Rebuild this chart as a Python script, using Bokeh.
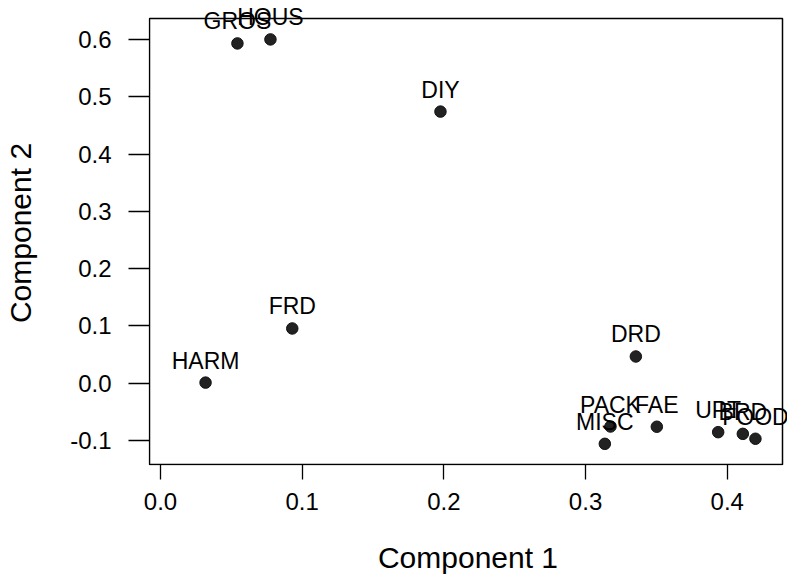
from bokeh.plotting import figure
from bokeh.models import Range1d, FixedTicker, PrintfTickFormatter, LabelSet, ColumnDataSource
from bokeh.core.properties import value
from bokeh.embed import file_html
from bokeh.resources import INLINE

# Data
names = ["GROS", "HOUS", "DIY", "FRD", "HARM", "DRD", "PACK", "MISC", "FAE", "UPT", "BRD", "FOOD"]
comp1 = [0.0543, 0.0776, 0.1976, 0.0930, 0.0318, 0.3355, 0.3176, 0.3136, 0.3503, 0.3936, 0.4110, 0.4199]
comp2 = [0.593, 0.600, 0.474, 0.0955, 0.001, 0.0466, -0.0756, -0.1058, -0.076, -0.0855, -0.0884, -0.097]
x_ticks = [0.0, 0.1, 0.2, 0.3, 0.4]
y_ticks = [-0.1, 0.0, 0.1, 0.2, 0.3, 0.4, 0.5, 0.6]
x_title = "Component 1"
y_title = "Component 2"

# plot box (data limits of the drawn frame)
box_x = (-0.00776, 0.439)
box_y = (-0.1419, 0.6365)

FONT = "Liberation Sans"

# pixel geometry: box drawn from (149,18) to (782,464) in a 787x578 page;
# the Bokeh frame is extended to the top/right edge so labels are not clipped
BOX_L, BOX_R, BOX_T, BOX_B = 149, 782, 18, 464
FR_L, FR_R, FR_T, FR_B = 148, 787, 0, 465
sx = (box_x[1] - box_x[0]) / (BOX_R - BOX_L)
sy = (box_y[1] - box_y[0]) / (BOX_B - BOX_T)
x_range = Range1d(box_x[0] - (BOX_L - FR_L) * sx, box_x[1] + (FR_R - BOX_R) * sx)
y_range = Range1d(box_y[0] - (FR_B - BOX_B) * sy, box_y[1] + (BOX_T - FR_T) * sy)

p = figure(width=787, height=578, output_backend="svg", toolbar_location=None,
           x_range=x_range, y_range=y_range,
           min_border_left=FR_L, min_border_right=787 - FR_R, min_border_top=FR_T,
           min_border_bottom=578 - FR_B)
p.background_fill_color = "white"
p.border_fill_color = "white"
p.grid.visible = False
p.outline_line_color = None

for ax, ticks, out, standoff, title, tstand in (
        (p.xaxis[0], x_ticks, 14, 13, x_title, 28),
        (p.yaxis[0], y_ticks, 20, 17, y_title, 30)):
    ax.ticker = FixedTicker(ticks=ticks)
    ax.formatter = PrintfTickFormatter(format="%.1f")
    ax.axis_line_color = None
    ax.major_tick_in = 1
    ax.major_tick_out = out
    ax.major_tick_line_color = "black"
    ax.major_tick_line_width = 1.3
    ax.minor_tick_line_color = None
    ax.major_label_text_font = FONT
    ax.major_label_text_font_size = "24px"
    ax.major_label_text_color = "black"
    ax.major_label_standoff = standoff
    ax.axis_label = title
    ax.axis_label_standoff = tstand
    ax.axis_label_text_font = FONT
    ax.axis_label_text_font_size = "30px"
    ax.axis_label_text_font_style = "normal"
    ax.axis_label_text_color = "black"
p.yaxis[0].major_label_orientation = "horizontal"

# the box
p.quad(left=[box_x[0]], right=[box_x[1]], bottom=[box_y[0]], top=[box_y[1]],
       fill_color=None, line_color="black", line_width=1.5)

src = ColumnDataSource(dict(x=comp1, y=comp2, name=names))
p.scatter("x", "y", source=src, size=11.5, fill_color="#222222", line_color="#111111", line_width=1)

labels = LabelSet(x="x", y="y", text="name", source=src, text_align="center",
                  text_baseline="alphabetic", y_offset=14, text_font=value(FONT),
                  text_font_size=value("23px"), text_color="black")
p.add_layout(labels)

open("out.html", "w").write(file_html(p, INLINE))
